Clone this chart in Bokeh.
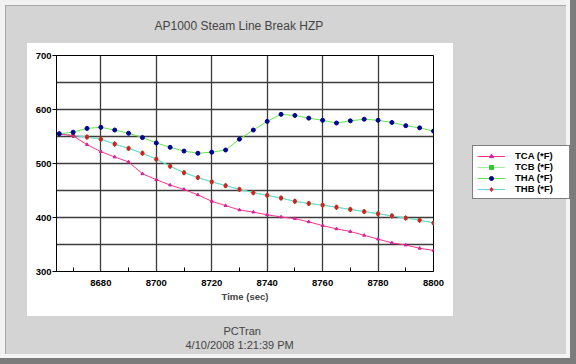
from bokeh.plotting import figure
from bokeh.models import FixedTicker, Legend, LegendItem, Range1d, Title
from bokeh.embed import file_html
from bokeh.resources import INLINE

# ---------------- data ----------------
time = [8665, 8670, 8675, 8680, 8685, 8690, 8695, 8700, 8705, 8710, 8715, 8720, 8725, 8730,
        8735, 8740, 8745, 8750, 8755, 8760, 8765, 8770, 8775, 8780, 8785, 8790, 8795, 8800]
tca = [555, 551, 535, 522, 512, 503, 481, 470, 460, 452, 442, 430, 422, 414,
       410, 405, 401, 398, 392, 385, 379, 374, 367, 360, 353, 349, 343, 339]
tcb = [555, 552, 549, 545, 536, 528, 519, 508, 495, 483, 474, 466, 459, 452,
       446, 441, 436, 430, 426, 423, 419, 415, 411, 407, 403, 399, 395, 390]
tha = [555, 558, 565, 567, 562, 556, 548, 538, 530, 523, 519, 521, 525, 545,
       562, 578, 591, 589, 584, 580, 575, 579, 582, 580, 576, 570, 566, 560]
thb = [555, 552, 549, 545, 536, 528, 519, 508, 495, 483, 474, 466, 459, 452,
       446, 441, 436, 430, 426, 423, 419, 415, 411, 407, 403, 399, 395, 390]
series_names = ["TCA (*F)", "TCB (*F)", "THA (*F)", "THB (*F)"]
x_ticks = [8680, 8700, 8720, 8740, 8760, 8780, 8800]
x_minor = [8670, 8690, 8710, 8730, 8750, 8770, 8790]
y_ticks = [300, 400, 500, 600, 700]
y_grid = [300, 350, 400, 450, 500, 550, 600, 650, 700]
title_text = "AP1000 Steam Line Break HZP"
footer_lines = ["PCTran", "4/10/2008 1:21:39 PM"]
x_label = "Time (sec)"

FONT = "Liberation Sans"
BG = "#d4d4d4"

def box(color):
    return f"linear-gradient({color},{color})"

# page background: gray window with white chart panel and 3D frame (CSS layers, top first)
layers = [
    (box("#7c7c7c"), "0px 358px", "576px 6px"),
    (box("#7c7c7c"), "570px 0px", "6px 364px"),
    (box("#f4f4f4"), "0px 354px", "570px 4px"),
    (box("#f4f4f4"), "566px 0px", "4px 358px"),
    (box("#ffffff"), "27px 43px", "426px 273px"),
    (box(BG), "6px 6px", "560px 348px"),
    (box("#a9a9a9"), "5px 5px", "562px 350px"),
]
page_styles = {
    "background-color": "#f2f2f2",
    "background-image": ", ".join(l[0] for l in layers),
    "background-position": ", ".join(l[1] for l in layers),
    "background-size": ", ".join(l[2] for l in layers),
    "background-repeat": "no-repeat",
}

p = figure(frame_width=377, frame_height=216, x_range=Range1d(8664, 8800), y_range=Range1d(300, 700),
           output_backend="svg", toolbar_location=None, title=None,
           min_border_left=56, min_border_right=143, min_border_top=55, min_border_bottom=93,
           styles=page_styles)
p.border_fill_alpha = 0
p.background_fill_color = "white"
p.outline_line_color = "black"
p.outline_line_width = 1

# title (spacer first so that it sits next to the frame)
p.add_layout(Title(text=" ", text_font_size="1px", standoff=4), "above")
p.add_layout(Title(text=title_text, align="left", offset=98, text_font=FONT,
                   text_font_style="normal", text_font_size="12px", standoff=31), "above")

# axes
p.xaxis.ticker = FixedTicker(ticks=x_ticks, minor_ticks=x_minor)
p.yaxis.ticker = FixedTicker(ticks=y_ticks)
p.xgrid.ticker = FixedTicker(ticks=x_ticks)
p.ygrid.ticker = FixedTicker(ticks=y_grid)
for g in (p.xgrid, p.ygrid):
    g.grid_line_color = "#3c3c3c"
    g.grid_line_width = 1.3

for ax in (p.xaxis, p.yaxis):
    ax.axis_line_color = "black"
    ax.major_tick_line_color = "black"
    ax.minor_tick_line_color = "black"
    ax.major_label_text_font = FONT
    ax.major_label_text_font_style = "bold"
    ax.major_label_text_font_size = "9.5px"
    ax.major_label_text_color = "black"

p.xaxis.major_tick_out = 0
p.xaxis.major_tick_in = 0
p.xaxis.minor_tick_in = 4
p.xaxis.minor_tick_out = 0
p.xaxis.major_label_standoff = 8
p.xaxis.axis_label = x_label
p.xaxis.axis_label_text_font = FONT
p.xaxis.axis_label_text_font_style = "bold"
p.xaxis.axis_label_text_font_size = "9.5px"
p.xaxis.axis_label_standoff = 2

p.yaxis.major_tick_out = 4
p.yaxis.major_tick_in = 0
p.yaxis.minor_tick_out = 0
p.yaxis.minor_tick_in = 0
p.yaxis.major_label_standoff = 1

# series
c_tca, m_tca = "#ff3385", "#d6209e"
c_tcb, m_tcb = "#9eee9e", "#33c433"
c_tha, m_tha = "#5ee84a", "#000099"
c_thb, m_thb = "#62dada", "#ee1122"

l_tcb = p.line(time, tcb, line_color=c_tcb, line_width=1)
s_tcb = p.scatter(time, tcb, marker="square", size=3, fill_color=m_tcb, line_color=m_tcb)
l_thb = p.line(time, thb, line_color=c_thb, line_width=1)
s_thb = p.scatter(time, thb, marker="diamond", size=5, fill_color=m_thb, line_color=m_thb)
l_tca = p.line(time, tca, line_color=c_tca, line_width=1)
s_tca = p.scatter(time, tca, marker="triangle", size=3, fill_color=m_tca, line_color=m_tca)
l_tha = p.line(time, tha, line_color=c_tha, line_width=1)
s_tha = p.scatter(time, tha, marker="circle", size=4, fill_color=m_tha, line_color=m_tha)

legend = Legend(items=[
    LegendItem(label=series_names[0], renderers=[l_tca, s_tca]),
    LegendItem(label=series_names[1], renderers=[l_tcb, s_tcb]),
    LegendItem(label=series_names[2], renderers=[l_tha, s_tha]),
    LegendItem(label=series_names[3], renderers=[l_thb, s_thb]),
], location=(39, 72))
legend.margin = 0
legend.padding = 4
legend.spacing = 0
legend.label_height = 10
legend.glyph_height = 10
legend.glyph_width = 28
legend.label_standoff = 10
legend.label_width = 50
legend.label_text_font = FONT
legend.label_text_font_style = "bold"
legend.label_text_font_size = "9.5px"
legend.label_text_color = "black"
legend.border_line_color = "black"
legend.border_line_width = 1
legend.background_fill_color = "white"
legend.background_fill_alpha = 1
p.add_layout(legend, "right")

# footer (spacer first, then the two lines)
p.add_layout(Title(text=" ", text_font_size="1px", standoff=15), "below")
p.add_layout(Title(text=footer_lines[0], align="left", offset=167, text_font=FONT,
                   text_font_size="11px", text_font_style="normal", standoff=0), "below")
p.add_layout(Title(text=footer_lines[1], align="left", offset=129, text_font=FONT,
                   text_font_size="11px", text_font_style="normal", standoff=0), "below")

open("out.html", "w").write(file_html(p, INLINE))
